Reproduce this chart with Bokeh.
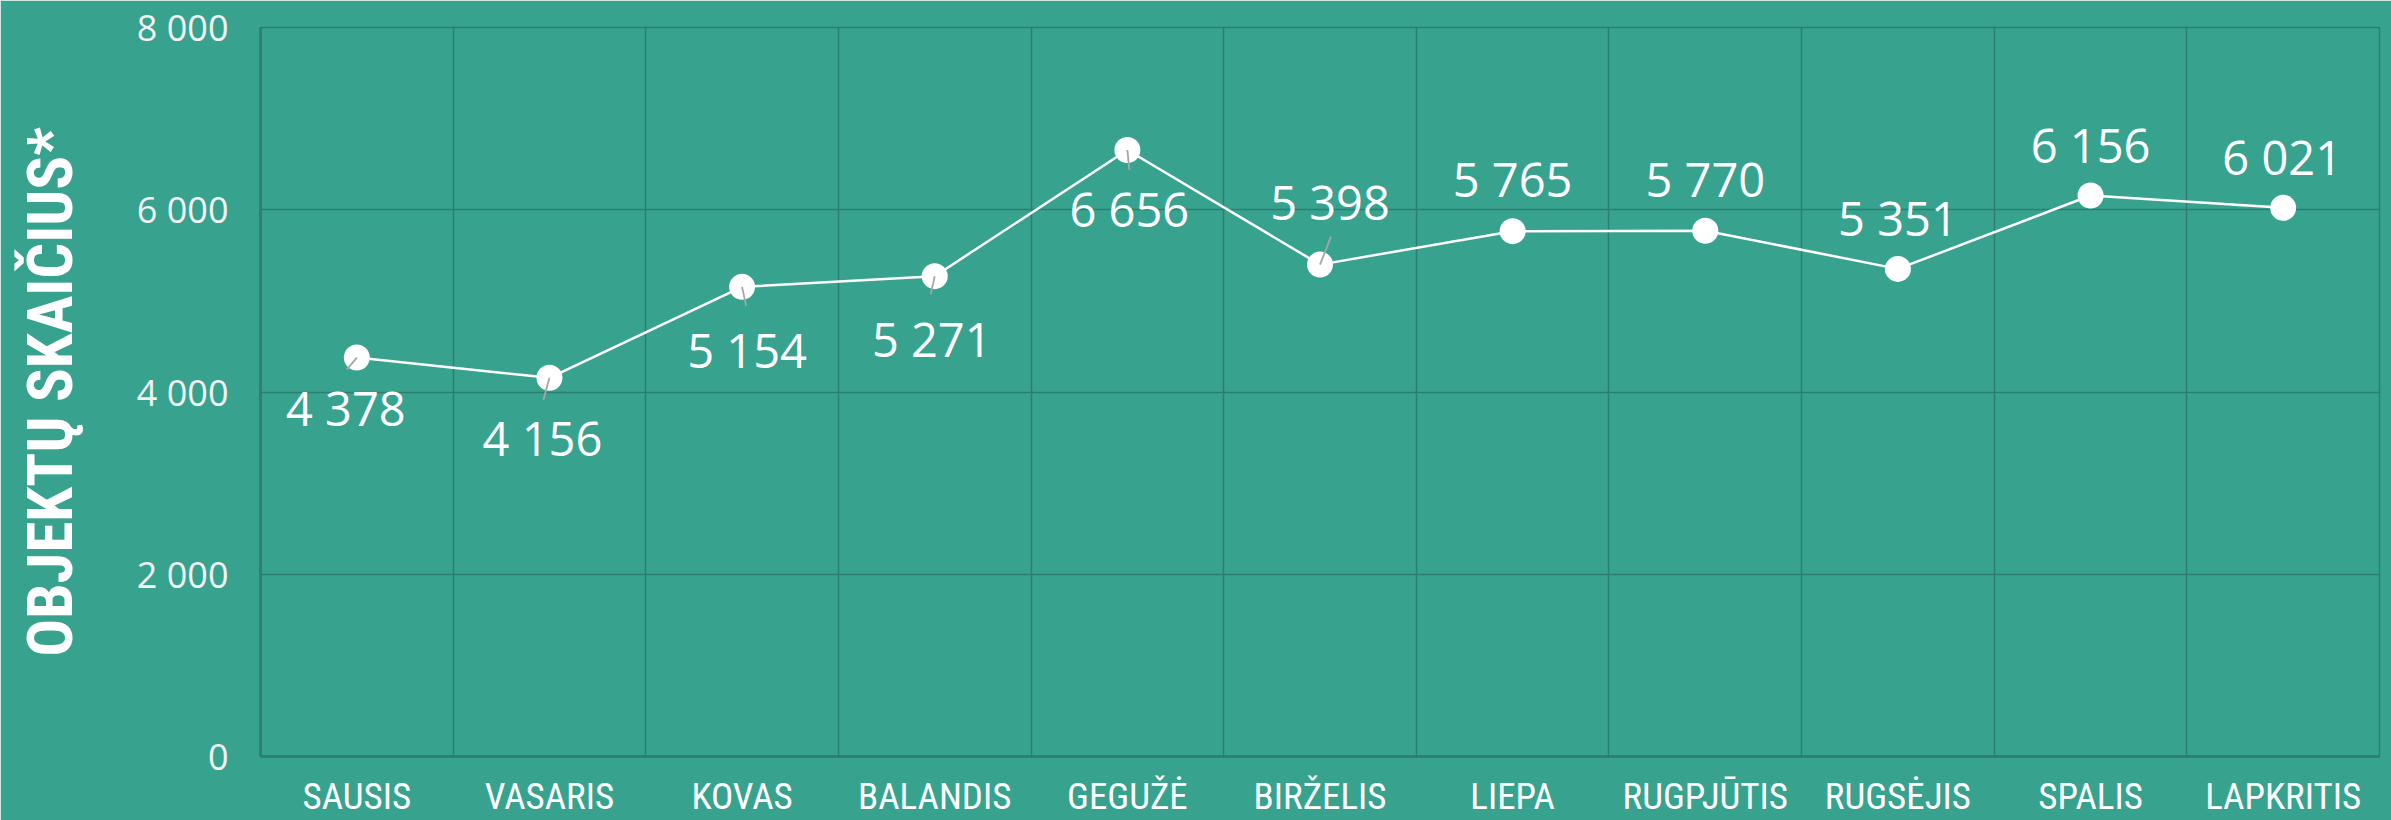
from bokeh.plotting import figure
from bokeh.models import ColumnDataSource, Range1d, FixedTicker
from bokeh.core.properties import value
from bokeh.embed import file_html
from bokeh.resources import INLINE

# ---- data ----
months = ["SAUSIS", "VASARIS", "KOVAS", "BALANDIS", "GEGUŽĖ", "BIRŽELIS",
          "LIEPA", "RUGPJŪTIS", "RUGSĖJIS", "SPALIS", "LAPKRITIS"]
counts = [4378, 4156, 5154, 5271, 6656, 5398, 5765, 5770, 5351, 6156, 6021]
y_ticks = [0, 2000, 4000, 6000, 8000]
y_title = "OBJEKTŲ SKAIČIUS*"

# ---- style ----
BG = "#37a38f"
GRID = "#2e7d71"
WHITE = "#ffffff"
LEADER = "#a6a6a6"
COND = "Roboto Condensed, DejaVu Sans Condensed, Roboto"

# label offsets in screen pixels (x right, y down)
lab_dx = [-11, -7, 5, -3, 2, 10, 0, 0, 0, 0, -1]
lab_dy = [50, 60, 63, 63, 59, -63, -52, -52, -51, -51, -51]
# leader line end offsets in screen pixels (None = no leader)
lead = [(-10, 12), (-6, 22), (4, 19), (-4, 18), (2, 20), (11, -28),
        None, None, None, None, None]

W, H = 2391, 820
ML, MR, MT, MB = 260, 12, 27, 64
frame_w = W - ML - MR
frame_h = H - MT - MB
n = len(months)
ymax = y_ticks[-1]
px_x = frame_w / n          # pixels per category
px_y = frame_h / ymax       # pixels per unit value

xs = [i + 0.5 for i in range(n)]
labels = [f"{v:,}".replace(",", " ") for v in counts]

p = figure(width=W, height=H, output_backend="svg", toolbar_location=None,
           x_range=Range1d(0, n), y_range=Range1d(0, ymax),
           min_border_left=ML, min_border_right=MR,
           min_border_top=MT, min_border_bottom=MB)

p.background_fill_color = BG
p.border_fill_color = BG
p.outline_line_color = GRID
p.outline_line_width = 1.5

# grids
p.xgrid.ticker = FixedTicker(ticks=list(range(n + 1)))
p.xgrid.grid_line_color = GRID
p.xgrid.grid_line_width = 1.5
p.ygrid.ticker = FixedTicker(ticks=y_ticks)
p.ygrid.grid_line_color = GRID
p.ygrid.grid_line_width = 1.5

# x axis
xa = p.xaxis[0]
xa.ticker = FixedTicker(ticks=xs)
xa.major_label_overrides = {x: m for x, m in zip(xs, months)}
xa.major_label_text_font = COND
xa.major_label_text_font_size = "37px"
xa.major_label_text_color = WHITE
xa.major_label_standoff = 12
xa.major_tick_line_color = None
xa.minor_tick_line_color = None
xa.axis_line_color = GRID
xa.axis_line_width = 2.5

# y axis
ya = p.yaxis[0]
ya.ticker = FixedTicker(ticks=y_ticks)
ya.major_label_overrides = {t: f"{t:,}".replace(",", " ") for t in y_ticks}
ya.major_label_text_font = "Open Sans"
ya.major_label_text_font_size = "36px"
ya.major_label_text_color = "#f2f2f2"
ya.major_label_standoff = 26
ya.major_tick_line_color = None
ya.minor_tick_line_color = None
ya.axis_line_color = GRID
ya.axis_line_width = 2.5
ya.axis_label = y_title
ya.axis_label_text_font = COND
ya.axis_label_text_font_style = "bold"
ya.axis_label_text_font_size = "63px"
ya.axis_label_text_color = WHITE
ya.axis_label_standoff = 47

src = ColumnDataSource(dict(x=xs, y=counts, label=labels, dx=lab_dx, dy=lab_dy))

p.line("x", "y", source=src, line_color=WHITE, line_width=2.5)
p.scatter("x", "y", source=src, size=26, fill_color=WHITE, line_color=None)

# leader lines
lx0, ly0, lx1, ly1 = [], [], [], []
for x, y, l in zip(xs, counts, lead):
    if l is None:
        continue
    lx0.append(x)
    ly0.append(y)
    lx1.append(x + l[0] / px_x)
    ly1.append(y - l[1] / px_y)
p.segment(lx0, ly0, lx1, ly1, line_color=LEADER, line_width=1.8)

p.text("x", "y", text="label", source=src, x_offset="dx", y_offset="dy",
       text_font=value("Open Sans"), text_font_size="47px",
       text_color=WHITE, text_align="center", text_baseline="middle")

html = file_html(p, INLINE)
html = html.replace("<body>", '<body style="background-color:%s;">' % BG, 1)
open("out.html", "w").write(html)
